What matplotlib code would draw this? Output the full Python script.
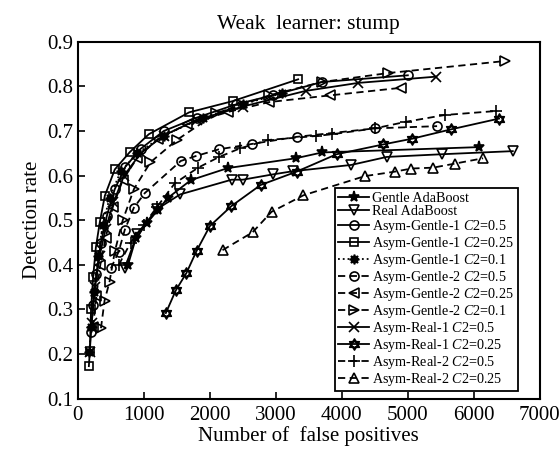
import matplotlib
matplotlib.use('Agg')
import matplotlib.pyplot as plt
from matplotlib.path import Path

plt.rcParams['font.family'] = ['Liberation Serif', 'DejaVu Serif']
plt.rcParams['mathtext.fontset'] = 'custom'
plt.rcParams['mathtext.it'] = 'Liberation Serif:italic'
plt.rcParams['mathtext.rm'] = 'Liberation Serif'

# ---- data ----
gentle_x = [760, 880, 1045, 1212, 1363, 1712, 2272, 3302, 3700, 6075]
gentle_y = [0.40, 0.46, 0.493, 0.523, 0.55, 0.59, 0.617, 0.639, 0.652, 0.664]

real_x = [712, 900, 1200, 1550, 2330, 2500, 2960, 3260, 4140, 4680, 5510, 6590]
real_y = [0.393, 0.47, 0.525, 0.558, 0.591, 0.591, 0.603, 0.61, 0.624, 0.642, 0.648, 0.655]

ag1_05_x = [200, 230, 280, 350, 440, 560, 720, 950, 1300, 1800, 2400, 2950, 3700, 5000]
ag1_05_y = [0.25, 0.31, 0.38, 0.45, 0.51, 0.57, 0.62, 0.66, 0.70, 0.73, 0.76, 0.78, 0.81, 0.825]

ag1_025_x = [167, 182, 200, 232, 273, 333, 409, 560, 788, 1076, 1687, 2344, 3338]
ag1_025_y = [0.173, 0.207, 0.30, 0.373, 0.439, 0.496, 0.555, 0.614, 0.653, 0.693, 0.742, 0.767, 0.816]

ag1_01_x = [175, 200, 240, 300, 380, 480, 650, 900, 1300, 1900, 2500, 3100]
ag1_01_y = [0.205, 0.26, 0.34, 0.42, 0.49, 0.55, 0.61, 0.65, 0.69, 0.73, 0.76, 0.785]

ag2_05_x = [500, 617, 712, 848, 1015, 1560, 1788, 2136, 2632, 3314, 4500, 5443]
ag2_05_y = [0.392, 0.429, 0.479, 0.528, 0.561, 0.633, 0.644, 0.659, 0.671, 0.687, 0.706, 0.711]

ag2_025_x = [230, 280, 340, 420, 530, 680, 900, 1220, 1650, 2280, 2900, 3820, 4900]
ag2_025_y = [0.26, 0.33, 0.40, 0.46, 0.53, 0.59, 0.64, 0.683, 0.715, 0.743, 0.765, 0.78, 0.797]

ag2_01_x = [350, 405, 480, 560, 680, 850, 1100, 1500, 2100, 2900, 3700, 4700, 6470]
ag2_01_y = [0.258, 0.32, 0.362, 0.43, 0.50, 0.57, 0.63, 0.68, 0.74, 0.78, 0.81, 0.83, 0.857]

ar1_05_x = [180, 210, 260, 330, 420, 540, 700, 950, 1300, 1800, 2500, 3450, 4250, 5430]
ar1_05_y = [0.205, 0.27, 0.35, 0.42, 0.48, 0.54, 0.60, 0.65, 0.69, 0.725, 0.755, 0.79, 0.808, 0.822]

ar1_025_x = [1333, 1485, 1646, 1798, 2000, 2328, 2768, 3314, 3920, 4626, 5070, 5660, 6383]
ar1_025_y = [0.292, 0.343, 0.382, 0.431, 0.487, 0.532, 0.579, 0.609, 0.648, 0.67, 0.683, 0.704, 0.728]

ar2_05_x = [620, 800, 1000, 1200, 1470, 1823, 2141, 2454, 2883, 3616, 3858, 4500, 4979, 5560, 6343]
ar2_05_y = [0.40, 0.45, 0.49, 0.53, 0.583, 0.618, 0.642, 0.661, 0.68, 0.689, 0.693, 0.706, 0.721, 0.736, 0.745]

ar2_025_x = [2192, 2647, 2935, 3418, 4348, 4802, 5055, 5383, 5712, 6140]
ar2_025_y = [0.433, 0.473, 0.519, 0.556, 0.599, 0.609, 0.616, 0.618, 0.627, 0.639]

labels = [
    'Gentle AdaBoost',
    'Real AdaBoost',
    r'Asym-Gentle-1 $C$2=0.5',
    r'Asym-Gentle-1 $C$2=0.25',
    r'Asym-Gentle-1 $C$2=0.1',
    r'Asym-Gentle-2 $C$2=0.5',
    r'Asym-Gentle-2 $C$2=0.25',
    r'Asym-Gentle-2 $C$2=0.1',
    r'Asym-Real-1 $C$2=0.5',
    r'Asym-Real-1 $C$2=0.25',
    r'Asym-Real-2 $C$2=0.5',
    r'Asym-Real-2 $C$2=0.25',
]

# star-of-david marker (two triangles)
h = 0.5
tri_up = [(0, 1), (-0.866, -h), (0.866, -h), (0, 1)]
tri_dn = [(0, -1), (-0.866, h), (0.866, h), (0, -1)]
hexagram = Path(tri_up + tri_dn,
                [Path.MOVETO, Path.LINETO, Path.LINETO, Path.CLOSEPOLY] * 2)

dash = (0, (4, 2.5))
series = [
    (gentle_x, gentle_y, '-', '*', 'k', 8),
    (real_x, real_y, '-', 'v', 'none', 6.5),
    (ag1_05_x, ag1_05_y, '-', 'o', 'none', 6.5),
    (ag1_025_x, ag1_025_y, '-', 's', 'none', 5.5),
    (ag1_01_x, ag1_01_y, ':', (8, 1, 0), 'k', 7),
    (ag2_05_x, ag2_05_y, dash, 'o', 'none', 6.5),
    (ag2_025_x, ag2_025_y, dash, '<', 'none', 6.5),
    (ag2_01_x, ag2_01_y, dash, '>', 'none', 6.5),
    (ar1_05_x, ar1_05_y, '-', 'x', 'k', 6.5),
    (ar1_025_x, ar1_025_y, '-', hexagram, 'none', 8),
    (ar2_05_x, ar2_05_y, dash, '+', 'k', 8),
    (ar2_025_x, ar2_025_y, dash, '^', 'none', 6.5),
]

fig = plt.figure(figsize=(5.6, 4.5), dpi=100)
ax = fig.add_axes([0.139, 0.114, 0.825, 0.793])

handles = []
for (x, y, ls, mk, mfc, ms), lab in zip(series, labels):
    hd, = ax.plot(x, y, linestyle=ls, color='k', linewidth=1.3,
                  marker=mk, markersize=ms, markerfacecolor=mfc,
                  markeredgecolor='k', markeredgewidth=1.2, label=lab)
    handles.append(hd)

ax.set_xlim(0, 7000)
ax.set_ylim(0.1, 0.9)
ax.set_xticks(range(0, 7001, 1000))
ax.set_yticks([0.1, 0.2, 0.3, 0.4, 0.5, 0.6, 0.7, 0.8, 0.9])
ax.set_yticklabels(['0.1', '0.2', '0.3', '0.4', '0.5', '0.6', '0.7', '0.8', '0.9'])
ax.tick_params(direction='in', length=5, width=1.2, labelsize=15)
ax.tick_params(axis='x', pad=5)
ax.tick_params(axis='y', pad=3)
for sp in ax.spines.values():
    sp.set_linewidth(1.5)

ax.set_title('Weak  learner: stump', fontsize=15.5, pad=9)
ax.set_xlabel('Number of  false positives', fontsize=15, labelpad=1)
ax.set_ylabel('Detection rate', fontsize=15, labelpad=4)

leg = ax.legend(handles=handles, loc='lower right', bbox_to_anchor=(0.952, 0.021),
                borderaxespad=0, fontsize=10.2, handlelength=2.2, handletextpad=0.2,
                labelspacing=0.0, borderpad=0.25, fancybox=False, framealpha=1,
                edgecolor='k')
leg.get_frame().set_linewidth(1.3)

plt.savefig('out.png', dpi=100)
